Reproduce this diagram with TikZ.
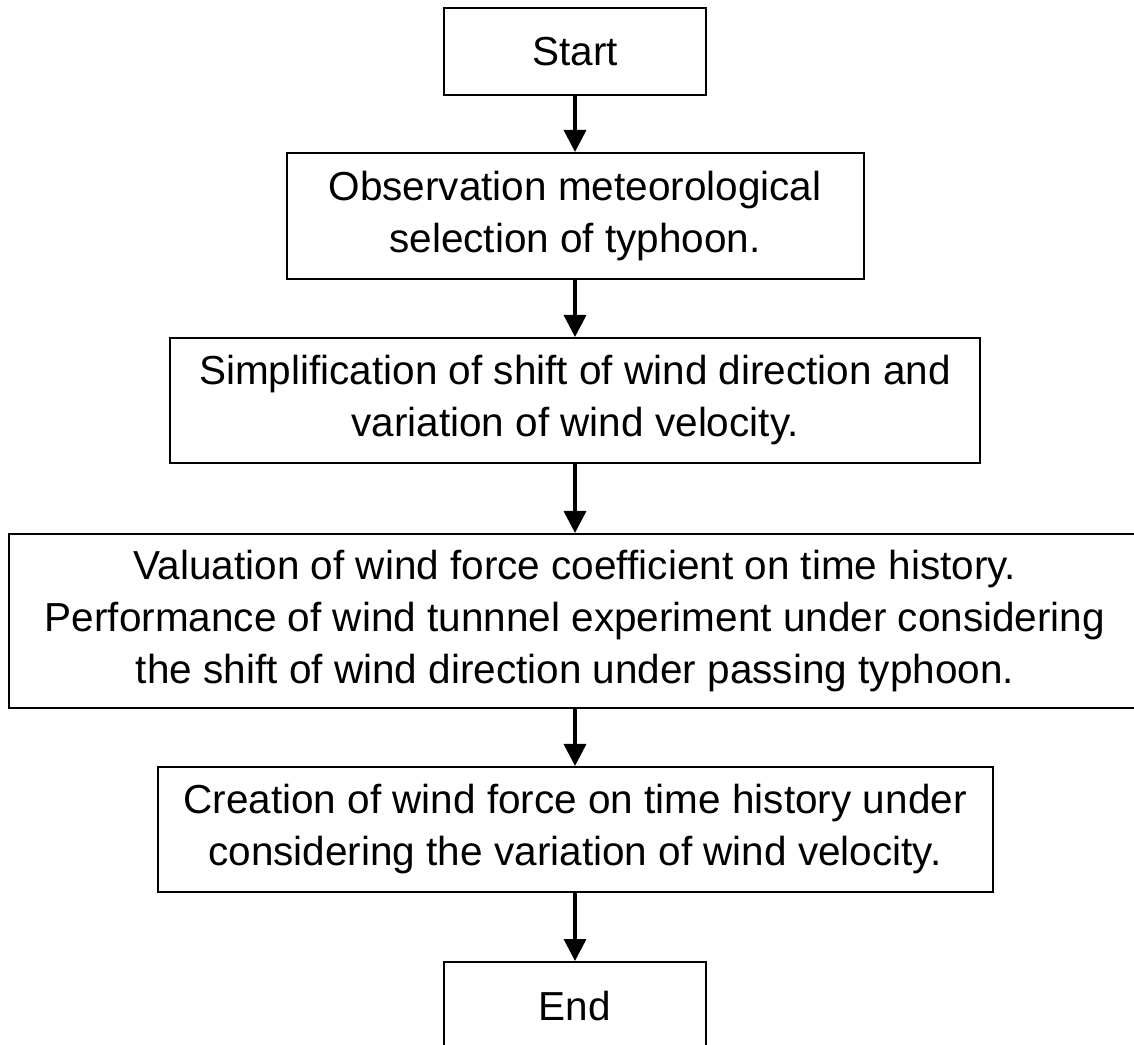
\documentclass[tikz,border=0pt]{standalone}
\usepackage{fontspec}
\setmainfont{Liberation Sans}
\usetikzlibrary{arrows.meta}
\begin{document}
\begin{tikzpicture}[x=1pt,y=1pt,
  box/.style={draw=black,line width=2pt,align=center,inner sep=0pt,
    font=\fontsize{40.5}{52}\selectfont},
  arr/.style={line width=3.5pt,-{Triangle[width=22pt,length=22pt]}}]
\useasboundingbox (0,0) rectangle (1134,1044);
\clip (0,0) rectangle (1134,1044);
\node[box,minimum width=262pt,minimum height=87pt] (start) at (575,992.5) {Start};
\node[box,minimum width=577pt,minimum height=126pt] (obs) at (575,828) {Observation meteorological\\ selection of typhoon.};
\node[box,minimum width=810pt,minimum height=125pt] (simp) at (575,643.5) {Simplification of shift of wind direction and\\ variation of wind velocity.};
\node[box,minimum width=1132pt,minimum height=174pt] (val) at (575,423) {Valuation of wind force coefficient on time history.\\ Performance of wind tunnnel experiment under considering\\ the shift of wind direction under passing typhoon.};
\node[box,minimum width=835pt,minimum height=125pt] (cre) at (575,214.5) {Creation of wind force on time history under\\ considering the variation of wind velocity.};
\node[box,minimum width=262pt,minimum height=88pt] (end) at (575,38) {End};
\draw[arr] (start.south) -- (obs.north);
\draw[arr] (obs.south) -- (simp.north);
\draw[arr] (simp.south) -- (val.north);
\draw[arr] (val.south) -- (cre.north);
\draw[arr] (cre.south) -- (end.north);
\end{tikzpicture}
\end{document}
